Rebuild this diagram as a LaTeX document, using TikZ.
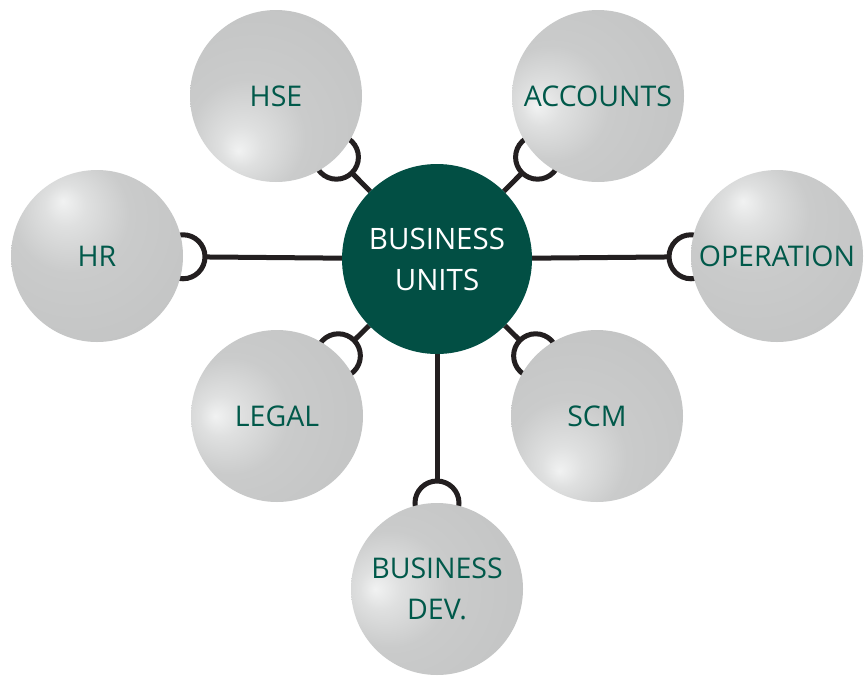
\documentclass[tikz,border=0pt]{standalone}
\usepackage{fontspec}
\setmainfont{Open Sans}
\usetikzlibrary{calc}
\definecolor{hubfill}{HTML}{024F44}
\definecolor{txtgreen}{HTML}{00594A}
\definecolor{wire}{HTML}{231F20}
\definecolor{ghi}{HTML}{F1F2F2}
\definecolor{gmid}{HTML}{DFE0E0}
\definecolor{gbase}{HTML}{CACBCB}
\definecolor{gedge}{HTML}{C4C5C5}
\newcommand\mkshade[3]{\pgfdeclareradialshading{#1}{\pgfpoint{#2}{#3}}{color(0bp)=(ghi); color(6bp)=(gmid); color(17bp)=(gbase); color(35bp)=(gedge); color(70bp)=(gedge)}}
\mkshade{hlUL}{-10bp}{16bp}
\mkshade{hlDL}{-11bp}{-16bp}
\mkshade{hlL}{-18bp}{0bp}
\mkshade{hlLd}{-18bp}{-3bp}
\pgfdeclarelayer{back}
\pgfsetlayers{back,main}
\begin{document}
\begin{tikzpicture}[x=1pt,y=-1pt,
  outer/.style={circle, minimum size=172pt, inner sep=0pt, text=txtgreen,
    font=\fontsize{28.5}{41}\selectfont, align=center},
  hub/.style={circle, minimum size=190pt, inner sep=0pt, fill=hubfill, text=white,
    font=\fontsize{29.5}{41}\selectfont, align=center},
  conn/.style={draw=wire, line width=5pt},
  socket/.style={draw=wire, line width=5pt}]
\useasboundingbox (0,0) rectangle (864,675);

\node[hub] (C) at (437,259) {BUSINESS\\UNITS};
\node[outer, shading=hlDL] (hse) at (276,96) {HSE};
\node[outer, shading=hlLd] (acc) at (598,96) {ACCOUNTS};
\node[outer, shading=hlUL] (hr) at (97,256) {HR};
\node[outer, shading=hlUL] (op) at (777,256) {OPERATION};
\node[outer, shading=hlL] (legal) at (277,416) {LEGAL};
\node[outer, shading=hlDL] (scm) at (597,416) {SCM};
\node[outer, shading=hlL] (bdev) at (437,589) {BUSINESS\\DEV.};

\begin{pgfonlayer}{back}
\foreach \n in {hse,acc,hr,op,legal,scm,bdev}{
  \coordinate (s-\n) at ($(\n.center)!86pt!(C.center)$);
  \coordinate (t-\n) at ($(\n.center)!108pt!(C.center)$);
  \draw[socket] (s-\n) circle (22pt);
  \draw[conn] (C) -- (t-\n);
}
\end{pgfonlayer}
\end{tikzpicture}
\end{document}
